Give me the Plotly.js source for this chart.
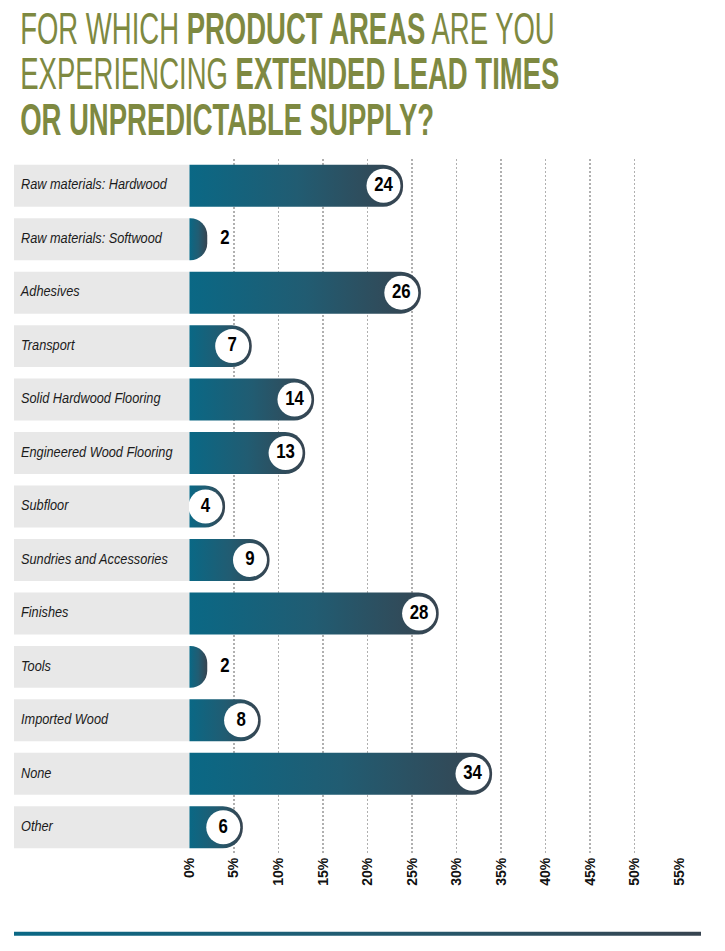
<!DOCTYPE html>
<html lang="en">
    <head>
        <meta charset="UTF-8" />
        <script src="https://cdn.plot.ly/plotly-3.0.1.min.js"></script>
        <title>Product areas with extended lead times</title>
        <style>
            body { margin: 0; background: #fff; }
            #chart { width: 725px; height: 951px; }
        </style>
    </head>
    <body>
        <div id="chart"></div>
    </body>
    <script>
        // Survey answers, share of respondents in %
        const categories = [
            "Raw materials: Hardwood",
            "Raw materials: Softwood",
            "Adhesives",
            "Transport",
            "Solid Hardwood Flooring",
            "Engineered Wood Flooring",
            "Subfloor",
            "Sundries and Accessories",
            "Finishes",
            "Tools",
            "Imported Wood",
            "None",
            "Other",
        ];
        const shares = [24, 2, 26, 7, 14, 13, 4, 9, 28, 2, 8, 34, 6];
        const tickVals = [0, 5, 10, 15, 20, 25, 30, 35, 40, 45, 50, 55];
        const tickLabels = ["0%", "5%", "10%", "15%", "20%", "25%", "30%", "35%", "40%", "45%", "50%", "55%"];
        const titleLines = [
            "FOR WHICH <b>PRODUCT AREAS</b> ARE YOU",
            "EXPERIENCING <b>EXTENDED LEAD TIMES</b>",
            "<b>OR UNPREDICTABLE SUPPLY?</b>",
        ];

        // no condensed face installed, so texts get squeezed after drawing
        const sans = "Liberation Sans, Arial, sans-serif";
        const teal = "#0b6a86";
        const olive = "#7e8941";

        // plot box in pixels: rows from 158.75 to 854.25
        const plotTop = 158.75, plotBottom = 854.25;
        const toPaperY = (px) => (plotBottom - px) / (plotBottom - plotTop);

        // badge sits inside the bar end, small bars get the number outside
        const labelX = shares.map((v) => (v >= 4 ? v - 2.2 : v + 2.0));
        const badgeColor = shares.map((v) => (v >= 4 ? "white" : "rgba(0,0,0,0)"));

        const data = [
            {
                type: "bar",
                orientation: "h",
                x: categories.map(() => 1),
                y: categories,
                xaxis: "x2",
                yaxis: "y",
                width: 0.785,
                marker: { color: "#e8e8e8" },
            },
            {
                type: "scatter",
                mode: "text",
                x: categories.map(() => 0.04),
                y: categories,
                xaxis: "x2",
                yaxis: "y",
                text: categories,
                textposition: "middle right",
                textfont: { family: sans, size: 15, color: "#1b1b1b", style: "italic" },
            },
            {
                type: "bar",
                orientation: "h",
                x: shares,
                y: categories,
                width: 0.785,
                marker: { color: teal, cornerradius: "50%" },
            },
            {
                type: "scatter",
                mode: "markers+text",
                x: labelX,
                y: categories,
                text: shares.map(String),
                textposition: "middle center",
                marker: { size: 34, color: badgeColor, line: { width: 0 } },
                textfont: { family: sans, size: 21, color: "#000", weight: "bold" },
            },
        ];

        const layout = {
            width: 725,
            height: 951,
            margin: { l: 14, r: 11, t: 159, b: 97 },
            paper_bgcolor: "#fff",
            plot_bgcolor: "rgba(0,0,0,0)",
            showlegend: false,
            hovermode: false,
            xaxis: {
                domain: [0.25, 0.95],
                range: [-0.05, 55],
                tickmode: "array",
                tickvals: tickVals,
                ticktext: tickLabels,
                tickangle: -90,
                ticks: "",
                showgrid: true,
                gridcolor: "#b0b0b0",
                gridwidth: 1.5,
                griddash: "2px,2px",
                zeroline: false,
                showline: false,
                tickfont: { family: sans, size: 14, color: "#111", weight: "bold" },
            },
            xaxis2: {
                domain: [0, 0.25],
                range: [0, 1],
                anchor: "y",
                visible: false,
            },
            yaxis: {
                type: "category",
                range: [12.5, -0.5],
                showticklabels: false,
                showgrid: false,
                zeroline: false,
            },
            annotations: titleLines.map((t, i) => ({
                text: t,
                xref: "paper",
                yref: "paper",
                x: 4 / 700,
                y: toPaperY(28 + i * 45.5),
                xanchor: "left",
                yanchor: "middle",
                showarrow: false,
                font: { family: sans, size: 44, color: olive },
            })),
            shapes: [
                {
                    type: "rect",
                    xref: "paper",
                    yref: "paper",
                    x0: 0,
                    x1: 687 / 700,
                    y0: toPaperY(936),
                    y1: toPaperY(932),
                    line: { width: 0 },
                    fillcolor: teal,
                },
            ],
        };

        function squeeze(el, sx, origin) {
            el.style.transformBox = "fill-box";
            el.style.transformOrigin = origin;
            el.style.transform = "scaleX(" + sx + ")";
        }

        Plotly.newPlot("chart", data, layout, { staticPlot: true }).then(function (gd) {
            // teal to slate gradient on every bar and on the bottom rule
            const ns = "http://www.w3.org/2000/svg";
            const svg = gd.querySelector(".main-svg");
            const defs = svg.querySelector("defs");
            const grad = document.createElementNS(ns, "linearGradient");
            grad.setAttribute("id", "tealGrad");
            grad.setAttribute("x1", "0");
            grad.setAttribute("x2", "1");
            grad.setAttribute("y1", "0");
            grad.setAttribute("y2", "0");
            [["0", "#0a6885"], ["0.5", "#215c72"], ["1", "#374450"]].forEach(function (s) {
                const stop = document.createElementNS(ns, "stop");
                stop.setAttribute("offset", s[0]);
                stop.setAttribute("stop-color", s[1]);
                grad.appendChild(stop);
            });
            defs.appendChild(grad);
            gd.querySelectorAll("path").forEach(function (p) {
                if (p.style.fill === "rgb(11, 106, 134)") p.style.fill = "url(#tealGrad)";
            });

            // condensed look
            gd.querySelectorAll(".annotation-text").forEach((t) => squeeze(t, 0.625, "0% 50%"));
            gd.querySelectorAll(".textpoint text").forEach(function (t) {
                if (categories.indexOf(t.textContent) >= 0) squeeze(t, 0.85, "0% 50%");
                else squeeze(t, 0.8, "50% 50%");
            });
        });
    </script>
</html>
